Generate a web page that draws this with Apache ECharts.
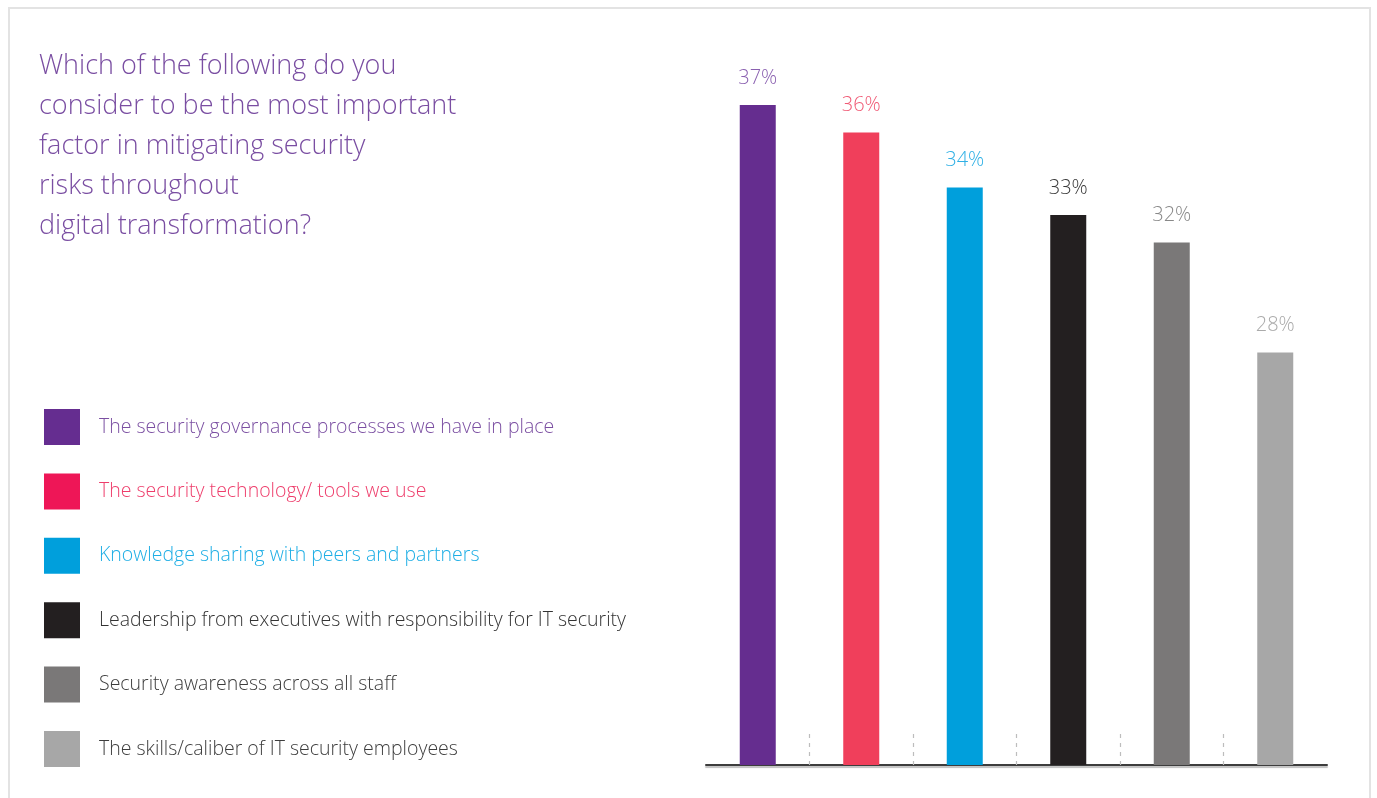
<!DOCTYPE html>
<html>
<head>
<meta charset="utf-8">
<script src="https://cdn.jsdelivr.net/npm/echarts@6/dist/echarts.min.js"></script>
<style>
  html, body { margin: 0; padding: 0; background: #ffffff; }
  #chart { width: 1377px; height: 798px; }
</style>
</head>
<body>
<div id="chart"></div>
<script>
// Survey question and answers
const questionLines = [
  'Which of the following do you',
  'consider to be the most important',
  'factor in mitigating security',
  'risks throughout',
  'digital transformation?'
];
const factors = [
  'The security governance processes we have in place',
  'The security technology/ tools we use',
  'Knowledge sharing with peers and partners',
  'Leadership from executives with responsibility for IT security',
  'Security awareness across all staff',
  'The skills/caliber of IT security employees'
];
const shares = [37, 36, 34, 33, 32, 28];

// Palette per answer: bar fill, legend swatch, legend text, value label
const barColors    = ['#652d8f', '#f03f5b', '#009fdc', '#231f20', '#7a7878', '#a7a7a7'];
const swatchColors = ['#652d90', '#ee1657', '#009fdc', '#231f20', '#7a7878', '#a7a7a7'];
const legendTextColors = ['#7b4fa2', '#ee3d6b', '#1eaee5', '#333333', '#3d3d3d', '#3d3d3d'];
const valueLabelColors = ['#8a60b0', '#f05a75', '#2fb0e5', '#3a3a3a', '#888888', '#aaaaaa'];

const FONT = 'Open Sans';

const chart = echarts.init(document.getElementById('chart'));

// One series per answer so each gets its own legend entry; bars overlap in place
const series = factors.map((name, i) => ({
  name: name,
  type: 'bar',
  xAxisIndex: 0,
  yAxisIndex: 0,
  barWidth: 36,
  barGap: '-100%',
  itemStyle: { color: barColors[i] },
  label: {
    show: true,
    position: 'top',
    distance: 17,
    formatter: '{c}%',
    color: valueLabelColors[i],
    fontFamily: FONT,
    fontWeight: 300,
    fontSize: 20
  },
  emphasis: { disabled: true },
  data: shares.map((v, j) => (j === i ? v : null))
}));

chart.setOption({
  animation: false,
  backgroundColor: '#ffffff',
  title: {
    text: questionLines.join('\n'),
    left: 39,
    top: 46,
    padding: 0,
    textStyle: {
      color: '#7a4ea2',
      fontFamily: FONT,
      fontWeight: 300,
      fontSize: 27,
      lineHeight: 40
    }
  },
  legend: {
    orient: 'vertical',
    left: 44,
    top: 409,
    padding: 0,
    itemWidth: 36,
    itemHeight: 36,
    itemGap: 28.4,
    icon: 'rect',
    selectedMode: false,
    textStyle: {
      fontFamily: FONT,
      fontWeight: 300,
      fontSize: 19.5,
      padding: [2, 0, 0, 14]
    },
    data: factors.map((name, i) => ({
      name: name,
      itemStyle: { color: swatchColors[i] },
      textStyle: { color: legendTextColors[i] }
    }))
  },
  grid: [
    { left: 706, right: 50, top: 22.5, bottom: 33 },
    // separator grid: spans from first to last gap between bars
    { left: 809.6, right: 153.6, top: 22.5, bottom: 33 }
  ],
  xAxis: [
    {
      type: 'category',
      gridIndex: 0,
      data: factors,
      axisLine: {
        show: true,
        lineStyle: { color: '#3d3d3d', width: 2, shadowColor: 'rgba(0,0,0,0.25)', shadowOffsetY: 2, shadowBlur: 1 }
      },
      axisTick: { show: false },
      axisLabel: { show: false }
    },
    {
      type: 'category',
      gridIndex: 1,
      boundaryGap: false,
      data: ['', '', '', '', ''],
      axisLine: { show: false },
      axisLabel: { show: false },
      axisTick: {
        show: true,
        inside: true,
        length: 35,
        lineStyle: { color: '#bdbdbd', width: 1.2, type: [4, 5] }
      }
    }
  ],
  yAxis: [
    { type: 'value', gridIndex: 0, min: 13, max: 40, show: false },
    { type: 'value', gridIndex: 1, min: 0, max: 1, show: false }
  ],
  graphic: [
    {
      type: 'rect',
      silent: true,
      shape: { x: 9, y: 8, width: 1361, height: 820 },
      style: { fill: 'none', stroke: '#e3e3e3', lineWidth: 2 }
    }
  ],
  series: series
});
</script>
</body>
</html>
